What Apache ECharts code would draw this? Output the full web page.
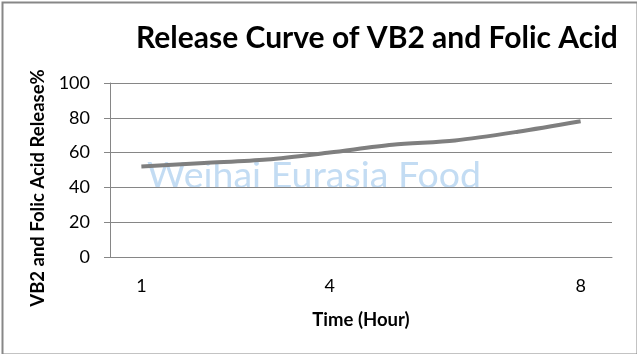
<!DOCTYPE html>
<html><head><meta charset="utf-8">
<script src="https://cdn.jsdelivr.net/npm/echarts@6/dist/echarts.min.js"></script>
<style>html,body{margin:0;padding:0;background:#fff}#c{width:637px;height:354px}</style>
</head><body><div id="c"></div>
<script>
const categories = ['1', '', '', '4', '', '', '', '8'];
const releaseValues = [52, 54, 56, 60, 64.5, 67, 72, 78];
const yTicks = { min: 0, max: 100, interval: 20 };
const titleText = 'Release Curve of VB2 and Folic Acid';
const xName = 'Time (Hour)';
const yName = 'VB2 and Folic Acid Release%';
const watermark = 'Weihai Eurasia Food';

const chart = echarts.init(document.getElementById('c'));
chart.setOption({
  animation: false,
  title: {
    text: titleText, left: 131, top: 18,
    textStyle: { fontFamily: 'Lato', fontWeight: 'bold', fontSize: 30, color: '#000' }
  },
  grid: { left: 110, right: 25, top: 83, bottom: 97 },
  xAxis: {
    type: 'category', data: categories, boundaryGap: true,
    name: xName, nameLocation: 'middle', nameGap: 54,
    nameTextStyle: { fontFamily: 'Lato', fontWeight: 'bold', fontSize: 18.5, color: '#000' },
    axisLine: { lineStyle: { color: '#868686', width: 1 } },
    axisTick: { show: false },
    axisLabel: { interval: 0, fontFamily: 'Lato', fontSize: 18, color: '#000', margin: 20 }
  },
  yAxis: {
    type: 'value', min: yTicks.min, max: yTicks.max, interval: yTicks.interval,
    name: yName, nameLocation: 'middle', nameGap: 54, nameRotate: 90,
    nameTextStyle: { fontFamily: 'Lato', fontWeight: 'bold', fontSize: 18.5, color: '#000', padding: [0, 0, 0, -36] },
    axisLine: { show: true, lineStyle: { color: '#868686', width: 1 } },
    axisTick: { show: true, length: 6, lineStyle: { color: '#868686' } },
    splitLine: { lineStyle: { color: '#868686', width: 1 } },
    axisLabel: { fontFamily: 'Lato', fontSize: 18, color: '#000', margin: 20 }
  },
  series: [{
    type: 'line', data: releaseValues, smooth: 0.3, symbol: 'none',
    lineStyle: { color: '#7f7f7f', width: 4 }
  }],
  graphic: [
    { type: 'rect', left: 0, top: 0, shape: { width: 635, height: 352 },
      style: { fill: 'none', stroke: '#878787', lineWidth: 2 }, silent: true, z: 100,
      position: [1, 1] },
    { type: 'text', left: 147, top: 157, z: 0,
      style: { text: watermark, fontFamily: 'Lato', fontSize: 37.5, fill: 'rgba(170,205,238,0.7)' } }
  ]
});
</script></body></html>
